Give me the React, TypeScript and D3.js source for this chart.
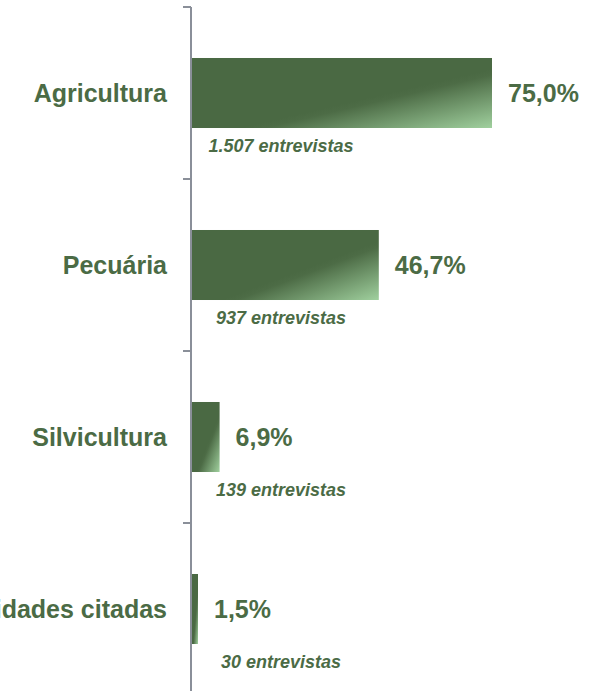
import { scaleBand, scaleLinear, format } from "d3";

const categories = ["Agricultura", "Pecuária", "Silvicultura", "Outras atividades citadas"];
const values = [75.0, 46.7, 6.9, 1.5];
const interviews = [1507, 937, 139, 30];

const w = 600;
const h = 691;
const green = "#4a6943";
const textGreen = "#4b6b45";
const axisGray = "#8a8f99";

function App() {
  // one band per category, edges are the axis ticks
  const y = scaleBand<string>().domain(categories).range([7, 695]).padding(0);
  const x = scaleLinear().domain([0, 100]).range([192, 592]);
  const barH = y.bandwidth() * 0.407;

  const pct = (v: number) => format(".1f")(v).replace(".", ",") + "%";
  const num = (v: number) => format(",")(v).replace(/,/g, ".");

  const tickYs = [...categories.map((c) => y(c) as number), 695];

  return (
    <div style={{ position: "absolute", left: 0, top: 0 }}>
      <svg width={w} height={h} style={{ display: "block" }} fontFamily="Liberation Sans, Arial, sans-serif">
        <defs>
          <linearGradient id="barGrad" x1="0" y1="0" x2="1" y2="1">
            <stop offset="0" stopColor={green} />
            <stop offset="0.58" stopColor={green} />
            <stop offset="0.62" stopColor="#4d6c46" />
            <stop offset="1" stopColor="#a0d09e" />
          </linearGradient>
        </defs>

        {/* axis */}
        <line x1={191} x2={191} y1={7} y2={695} stroke={axisGray} strokeWidth={2} />
        {tickYs.map((t, i) => (
          <line key={i} x1={183} x2={191} y1={t} y2={t} stroke={axisGray} strokeWidth={2} />
        ))}

        {categories.map((c, i) => {
          const cy = (y(c) as number) + y.bandwidth() / 2;
          return (
            <g key={c}>
              <rect x={x(0)} y={cy - barH / 2} width={x(values[i]) - x(0)} height={barH} fill="url(#barGrad)" />
              <text x={167} y={cy + 9} textAnchor="end" fontSize={25} fontWeight="bold" fill={textGreen}>
                {c}
              </text>
              <text x={x(values[i]) + 16} y={cy + 9} fontSize={25} fontWeight="bold" fill={textGreen}>
                {pct(values[i])}
              </text>
              <text
                x={281}
                y={cy + 59}
                textAnchor="middle"
                fontSize={18}
                fontWeight="bold"
                fontStyle="italic"
                fill={textGreen}
              >
                {num(interviews[i])} entrevistas
              </text>
            </g>
          );
        })}
      </svg>
    </div>
  );
}

export default App;
